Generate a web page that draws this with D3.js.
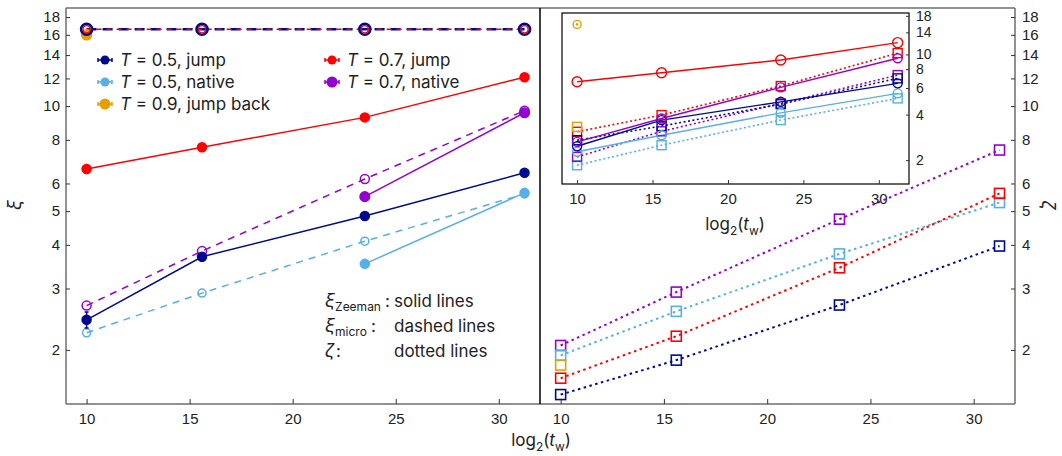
<!DOCTYPE html>
<html><head><meta charset="utf-8">
<script src="https://cdn.jsdelivr.net/npm/d3@7"></script>
<style>
body{margin:0;background:#fff;}
svg{display:block;font-family:Inter,"Noto Sans",sans-serif;}
</style></head>
<body>
<svg id="chart" width="1062" height="456"></svg>
<script>
// ---------- data ----------
const tw = [10, 15.6, 23.5, 31.25];
const xTicks = [10, 15, 20, 25, 30];
const yTicks = [2, 3, 4, 5, 6, 8, 10, 12, 14, 16, 18];
const insetYTicks = [2, 4, 6, 8, 10, 14, 18];

// xi_Zeeman (solid lines, filled circles)
const zeemanJump05   = [2.44, 3.70, 4.84, 6.44];
const zeemanJump05Err= [0.13, 0.10, 0.05, 0.05];
const zeemanJump07   = [6.6, 7.62, 9.28, 12.1];
const zeemanNative05 = [null, null, 3.53, 5.64];
const zeemanNative07 = [null, null, 5.50, 9.57];
// xi_micro (dashed lines, open circles)
const microJump05   = [16.6, 16.6, 16.6, 16.6];
const microJump07   = [16.6, 16.6, 16.6, 16.6];
const microNative05 = [2.24, 2.91, 4.10, 5.60];
const microNative07 = [2.68, 3.84, 6.18, 9.70];
const xiJumpBack09  = [16.0];
// zeta (dotted lines, open squares)
const zetaJump05    = [1.49, 1.87, 2.69, 3.97];
const zetaJump07    = [1.66, 2.19, 3.44, 5.62];
const zetaNative05  = [1.93, 2.58, 3.77, 5.29];
const zetaNative07  = [2.06, 2.93, 4.74, 7.48];
const zetaJumpBack09= [1.81];
// inset
const insetXiJump05    = [2.47, 3.68, 4.86, 6.44];
const insetXiJump07    = [6.6, 7.57, 9.19, 11.97];
const insetXiNative05  = [2.27, 2.92, 4.11, 5.53];
const insetXiNative07  = [2.64, 3.77, 6.06, 9.43];
const insetXiJumpBack09= [15.8];
const insetZetaJump05  = [2.71, 3.36, 4.69, 6.95];
const insetZetaJump07  = [3.08, 3.97, 6.18, 10.2];
const insetZetaNative05= [1.85, 2.51, 3.68, 5.12];
const insetZetaNative07= [2.10, 3.10, 4.74, 7.30];
const insetZetaJumpBack09=[3.32];

const legendLabels = [["0.5", "jump"], ["0.5", "native"], ["0.9", "jump back"], ["0.7", "jump"], ["0.7", "native"]];

const C = {navy:"#000a8f", red:"#ff0000", sky:"#56b0e6", orange:"#e69f00", purple:"#9400d3"};

// ---------- layout ----------
const svg = d3.select("#chart");
const L = 66, M = 540, R = 1015, T = 8, B = 404;
const xL = d3.scaleLinear([9, 32], [L, M]);
const xR = d3.scaleLinear([9, 32], [M, R]);
const y  = d3.scaleLog([1.40, 19.1], [B, T]);
const IL = 562, IR = 909, IT = 13, IB = 184;
const xI = d3.scaleLinear([9, 32], [IL, IR]);
const yI = d3.scaleLog([1.39, 18.8], [IB, IT]);

function pts(vals){ return vals.map((v,i)=>({x:tw[i], v})).filter(d=>d.v!=null); }
function line(g, xs, ys, vals, color, w, dash){
  g.append("path").datum(pts(vals))
   .attr("d", d3.line().x(d=>xs(d.x)).y(d=>ys(d.v)))
   .attr("fill","none").attr("stroke",color).attr("stroke-width",w)
   .attr("stroke-dasharray",dash||null);
}
function circles(g, xs, ys, vals, color, r, filled, sw){
  g.selectAll(null).data(pts(vals)).join("circle")
   .attr("cx",d=>xs(d.x)).attr("cy",d=>ys(d.v)).attr("r",r)
   .attr("fill",filled?color:"none").attr("stroke",color).attr("stroke-width",sw||1.5);
}
function squares(g, xs, ys, vals, color, s, sw){
  g.selectAll(null).data(pts(vals)).join("rect")
   .attr("x",d=>xs(d.x)-s/2).attr("y",d=>ys(d.v)-s/2).attr("width",s).attr("height",s)
   .attr("fill","none").attr("stroke",color).attr("stroke-width",sw||1.6);
}

// ---------- frame ----------
const axisCol = "#6e6e6e";
svg.append("line").attr("x1",L).attr("x2",R).attr("y1",T).attr("y2",T).attr("stroke",axisCol).attr("stroke-width",1.5);
svg.append("line").attr("x1",L).attr("x2",R).attr("y1",B).attr("y2",B).attr("stroke",axisCol).attr("stroke-width",1.5);
svg.append("line").attr("x1",L).attr("x2",L).attr("y1",T).attr("y2",B).attr("stroke",axisCol).attr("stroke-width",1.5);
svg.append("line").attr("x1",R).attr("x2",R).attr("y1",T).attr("y2",B).attr("stroke",axisCol).attr("stroke-width",1.5);
svg.append("line").attr("x1",M).attr("x2",M).attr("y1",T).attr("y2",B).attr("stroke","#000").attr("stroke-width",1.5);

// axes (inward ticks)
function styleAxis(g, size){
  g.select(".domain").remove();
  g.selectAll(".tick line").attr("stroke","#333").attr("stroke-width",1);
  g.selectAll(".tick text").attr("fill","#222").style("font-size",size+"px");
}
const gxl = svg.append("g").attr("transform",`translate(0,${B})`)
  .call(d3.axisBottom(xL).tickValues(xTicks).tickSizeInner(-5).tickSizeOuter(0).tickPadding(9));
styleAxis(gxl,15);
const gxr = svg.append("g").attr("transform",`translate(0,${B})`)
  .call(d3.axisBottom(xR).tickValues(xTicks).tickSizeInner(-5).tickSizeOuter(0).tickPadding(9));
styleAxis(gxr,15);
const gyl = svg.append("g").attr("transform",`translate(${L},0)`)
  .call(d3.axisLeft(y).tickValues(yTicks).tickFormat(d3.format("d")).tickSizeInner(-4).tickSizeOuter(0).tickPadding(6));
styleAxis(gyl,15);
const gyr = svg.append("g").attr("transform",`translate(${R},0)`)
  .call(d3.axisRight(y).tickValues(yTicks).tickFormat(d3.format("d")).tickSizeInner(-4).tickSizeOuter(0).tickPadding(7));
styleAxis(gyr,15);

// axis labels
svg.append("text").attr("transform",`translate(21,205) rotate(-90)`).attr("text-anchor","middle")
  .style("font-size","18px").style("font-style","italic").attr("fill","#222").text("ξ");
svg.append("text").attr("transform",`translate(1042,205) rotate(90)`).attr("text-anchor","middle")
  .style("font-size","18px").style("font-style","italic").attr("fill","#222").text("ζ");
function logLabel(g, x, yy, size){
  const t = g.append("text").attr("x",x).attr("y",yy).attr("text-anchor","middle").attr("fill","#222").style("font-size",size+"px");
  t.append("tspan").text("log");
  t.append("tspan").attr("dy",size*0.3).style("font-size",(size*0.7)+"px").text("2");
  t.append("tspan").attr("dy",-size*0.3).text("(");
  t.append("tspan").style("font-style","italic").text("t");
  t.append("tspan").attr("dy",size*0.3).style("font-size",(size*0.7)+"px").text("w");
  t.append("tspan").attr("dy",-size*0.3).text(")");
}
logLabel(svg, 541, 446, 17);

// ---------- left panel ----------
const gl = svg.append("g");
line(gl, xL, y, microNative05, C.sky, 1.5, "7,6");
line(gl, xL, y, microNative07, C.purple, 1.5, "7,6");
line(gl, xL, y, zeemanNative05, C.sky, 1.5);
line(gl, xL, y, zeemanNative07, C.purple, 1.5);
line(gl, xL, y, zeemanJump05, C.navy, 1.5);
line(gl, xL, y, zeemanJump07, C.red, 1.5);
line(gl, xL, y, microJump05, C.navy, 2.5, "10,6");
line(gl, xL, y, microJump07, C.red, 1.3, "5,5");
circles(gl, xL, y, microNative05, C.sky, 4, false, 1.5);
circles(gl, xL, y, microNative07, C.purple, 4.5, false, 1.5);
// error bars navy
gl.selectAll(null).data(pts(zeemanJump05).map((d,i)=>({...d,e:zeemanJump05Err[i]}))).join("path")
  .attr("d",d=>{const x=xL(d.x),a=y(d.v-d.e),b=y(d.v+d.e);return `M${x},${a}V${b}M${x-2},${a}H${x+2}M${x-2},${b}H${x+2}`;})
  .attr("stroke",C.navy).attr("stroke-width",1.5).attr("fill","none");
circles(gl, xL, y, zeemanJump05, C.navy, 4.5, true);
circles(gl, xL, y, zeemanJump07, C.red, 4.5, true);
circles(gl, xL, y, zeemanNative05, C.sky, 4.5, true);
circles(gl, xL, y, zeemanNative07, C.purple, 4.8, true);
circles(gl, xL, y, xiJumpBack09, C.orange, 5, true);
circles(gl, xL, y, microJump05, C.navy, 5.5, false, 2.6);
circles(gl, xL, y, microJump07, C.red, 3.6, false, 1.4);

// legend
const lg = svg.append("g").style("font-size","17px").attr("fill","#222");
const legendColors = [C.navy, C.sky, C.orange, C.red, C.purple];
const legendPos = [[105,60],[105,82],[105,104],[332,60],[332,82]];
legendLabels.forEach((lab,i)=>{
  const [cx,cy] = legendPos[i], col = legendColors[i];
  lg.append("path").attr("d",`M${cx-7},${cy}H${cx+7}M${cx-7},${cy-2}V${cy+2}M${cx+7},${cy-2}V${cy+2}`)
    .attr("stroke",col).attr("stroke-width",1.5).attr("fill","none");
  lg.append("circle").attr("cx",cx).attr("cy",cy).attr("r",i===2||i===4?5.5:4.5).attr("fill",col);
  const t = lg.append("text").attr("x",cx+15).attr("y",cy+6);
  t.append("tspan").style("font-style","italic").text("T");
  t.append("tspan").text(` = ${lab[0]}, ${lab[1]}`);
});

// annotation
const an = svg.append("g").style("font-size","17px").attr("fill","#222");
function greek(yy, sym, sub, colonX){
  const t = an.append("text").attr("x",325).attr("y",yy);
  t.append("tspan").style("font-style","italic").style("font-size","18px").text(sym);
  if(sub) t.append("tspan").attr("dy",4).style("font-size","12px").text(sub);
  an.append("text").attr("x",colonX).attr("y",yy).text(":");
}
greek(307,"ξ","Zeeman",385);
greek(332,"ξ","micro",371);
greek(357,"ζ",null,336);
an.append("text").attr("x",394).attr("y",307).text("solid lines");
an.append("text").attr("x",394).attr("y",332).text("dashed lines");
an.append("text").attr("x",394).attr("y",357).text("dotted lines");

// ---------- right panel ----------
const gr = svg.append("g");
const dot = "2.5,3.5";
line(gr, xR, y, zetaNative07, C.purple, 2, dot);
line(gr, xR, y, zetaNative05, C.sky, 2, dot);
line(gr, xR, y, zetaJump07, C.red, 2, dot);
line(gr, xR, y, zetaJump05, C.navy, 2, dot);
squares(gr, xR, y, zetaNative07, C.purple, 10);
squares(gr, xR, y, zetaNative05, C.sky, 10);
squares(gr, xR, y, zetaJump07, C.red, 10);
squares(gr, xR, y, zetaJump05, C.navy, 10);
squares(gr, xR, y, zetaJumpBack09, C.orange, 10);

// ---------- inset ----------
const gi = svg.append("g");
gi.append("rect").attr("x",IL).attr("y",IT).attr("width",IR-IL).attr("height",IB-IT).attr("fill","#fff").attr("stroke","#000").attr("stroke-width",1.2);
const gix = gi.append("g").attr("transform",`translate(0,${IB})`)
  .call(d3.axisBottom(xI).tickValues(xTicks).tickSizeInner(-4).tickSizeOuter(0).tickPadding(9));
styleAxis(gix,15);
const giy = gi.append("g").attr("transform",`translate(${IR},0)`)
  .call(d3.axisRight(yI).tickValues(insetYTicks).tickFormat(d3.format("d")).tickSizeInner(-3).tickSizeOuter(0).tickPadding(7));
styleAxis(giy,14);
logLabel(gi, 735, 230, 17);
const sd = "2,2.5";
line(gi, xI, yI, insetZetaNative05, C.sky, 1.6, sd);
line(gi, xI, yI, insetZetaNative07, C.purple, 1.6, sd);
line(gi, xI, yI, insetZetaJump05, C.navy, 1.6, sd);
line(gi, xI, yI, insetZetaJump07, C.red, 1.6, sd);
line(gi, xI, yI, insetXiNative05, C.sky, 1.4);
line(gi, xI, yI, insetXiJump05, C.navy, 1.4);
line(gi, xI, yI, insetXiNative07, C.purple, 1.4);
line(gi, xI, yI, insetXiJump07, C.red, 1.4);
squares(gi, xI, yI, insetZetaNative05, C.sky, 9, 1.4);
squares(gi, xI, yI, insetZetaJump07, C.red, 9, 1.4);
squares(gi, xI, yI, insetZetaJumpBack09, C.orange, 9, 1.4);
squares(gi, xI, yI, insetZetaNative07, C.purple, 9, 1.4);
squares(gi, xI, yI, insetZetaJump05, C.navy, 9, 1.4);
circles(gi, xI, yI, insetXiNative05, C.sky, 4.5, false, 1.4);
circles(gi, xI, yI, insetXiJump05, C.navy, 4.5, false, 1.4);
circles(gi, xI, yI, insetXiNative07, C.purple, 4.5, false, 1.4);
circles(gi, xI, yI, insetXiJump07, C.red, 5, false, 1.4);
circles(gi, xI, yI, insetXiJumpBack09, C.orange, 4, false, 1.4);
gi.selectAll(null).data(pts(insetXiJumpBack09)).join("circle")
  .attr("cx",d=>xI(d.x)).attr("cy",d=>yI(d.v)).attr("r",1.3).attr("fill",C.orange);
</script>
</body></html>
